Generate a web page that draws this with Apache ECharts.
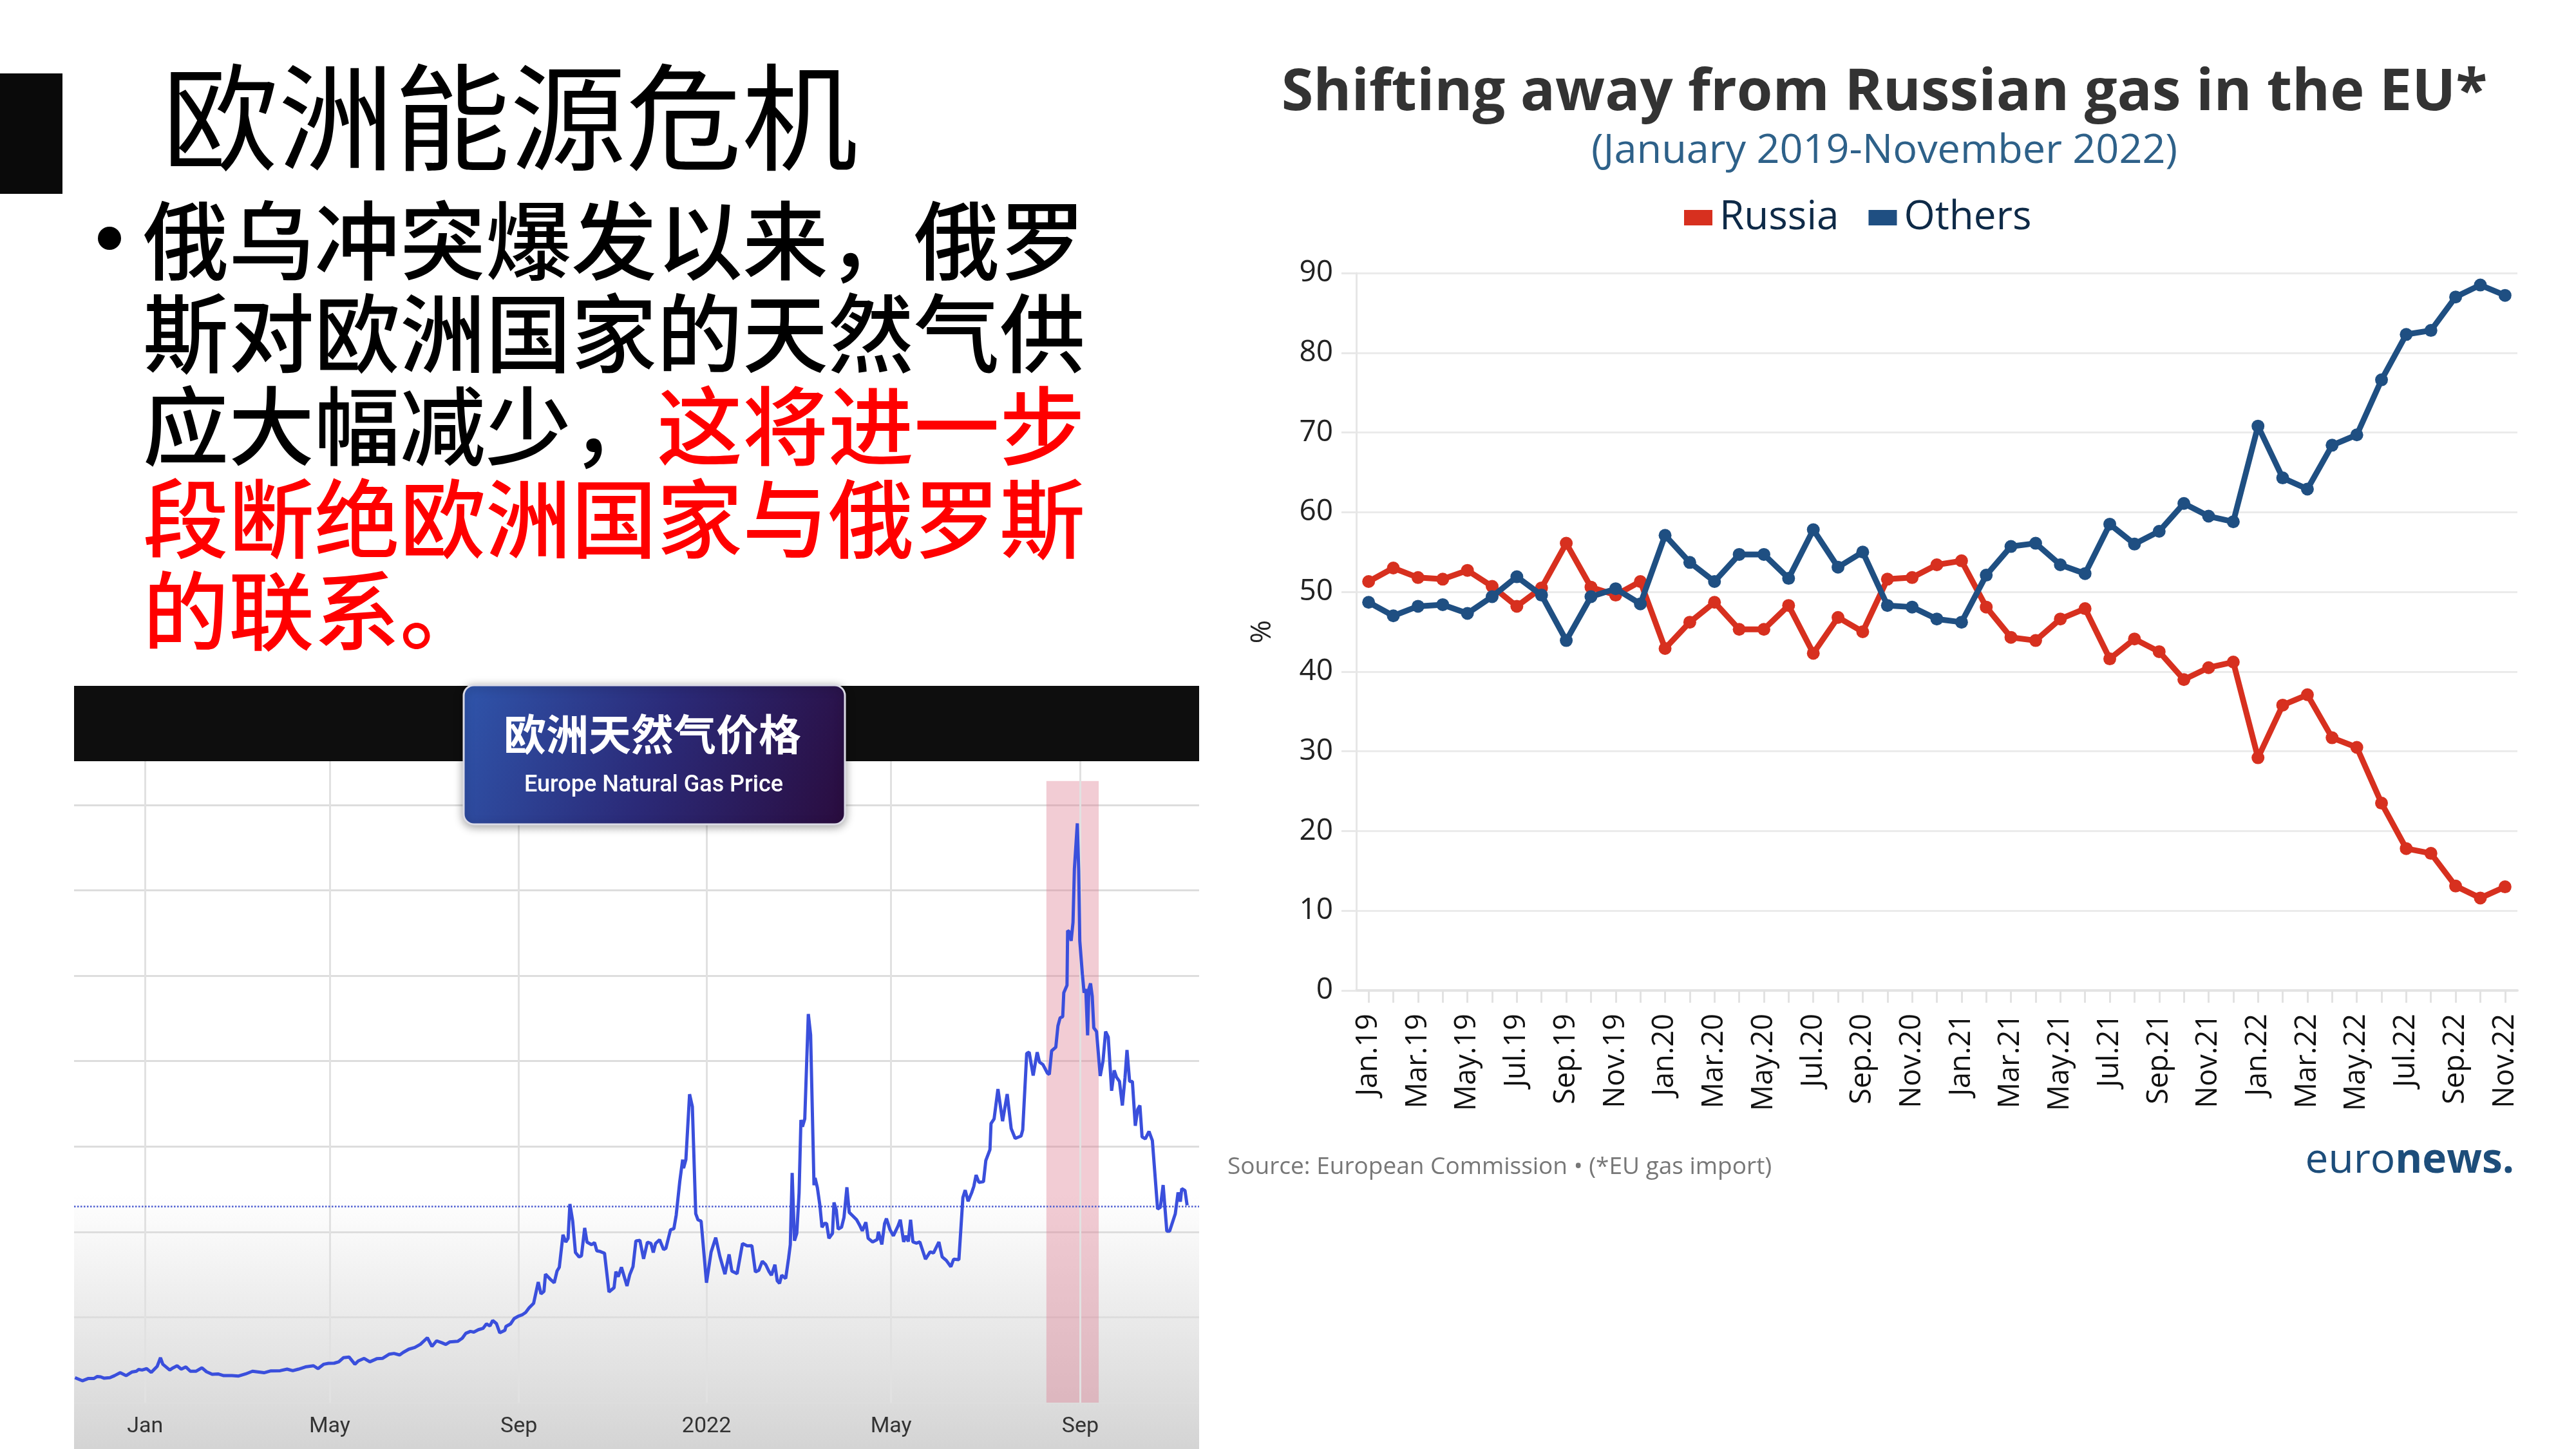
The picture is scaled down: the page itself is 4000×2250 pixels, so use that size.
<!DOCTYPE html>
<html><head><meta charset="utf-8">
<script src="https://cdn.jsdelivr.net/npm/echarts@6/dist/echarts.min.js"></script>
<style>html,body{margin:0;padding:0;background:#fff}#c{width:4000px;height:2250px}</style>
</head><body><div id="c"></div>
<script>
// ---------- Right chart: share of EU gas imports (%) ----------
const monthLabels = [
 'Jan.19','Feb.19','Mar.19','Apr.19','May.19','Jun.19','Jul.19','Aug.19','Sep.19','Oct.19','Nov.19','Dec.19',
 'Jan.20','Feb.20','Mar.20','Apr.20','May.20','Jun.20','Jul.20','Aug.20','Sep.20','Oct.20','Nov.20','Dec.20',
 'Jan.21','Feb.21','Mar.21','Apr.21','May.21','Jun.21','Jul.21','Aug.21','Sep.21','Oct.21','Nov.21','Dec.21',
 'Jan.22','Feb.22','Mar.22','Apr.22','May.22','Jun.22','Jul.22','Aug.22','Sep.22','Oct.22','Nov.22'];
const russiaShare = [
 51.3,53.0,51.8,51.6,52.7,50.7,48.2,50.5,56.1,50.6,49.6,51.3,
 42.9,46.2,48.7,45.3,45.3,48.3,42.3,46.8,45.0,51.6,51.8,53.4,
 53.9,48.1,44.3,43.9,46.6,47.9,41.6,44.1,42.5,39.0,40.5,41.2,
 29.2,35.8,37.1,31.7,30.5,23.5,17.8,17.2,13.1,11.6,13.0];
const othersShare = [
 48.7,47.0,48.2,48.4,47.3,49.4,51.9,49.6,43.9,49.4,50.4,48.5,
 57.1,53.7,51.3,54.7,54.7,51.7,57.8,53.1,55.0,48.3,48.1,46.6,
 46.2,52.1,55.7,56.1,53.4,52.3,58.5,56.0,57.6,61.1,59.5,58.8,
 70.8,64.3,62.9,68.4,69.7,76.6,82.3,82.8,87.0,88.5,87.2];
const shareTicks = {min:0, max:90, interval:10};

// ---------- Left chart: Europe natural gas price ----------
// [days since 2021-01-01, price]
const gasPoints = [
 [-45.6,14.6],[-40.8,12.8],[-37.1,14.1],[-33.4,14.1],[-31.1,15.3],[-28.9,15.1],[-26.6,14.3],[-22.9,14.6],
 [-19.9,15.8],[-16.2,17.5],[-12.4,15.8],[-8.7,17.9],[-5.7,18.4],[-4.2,19.4],[-2.0,19.1],[1.0,19.9],
 [4.0,17.7],[7.8,21.2],[10.0,26.3],[11.5,22.5],[16.0,19.1],[18.2,20.4],[20.8,21.6],[23.5,19.6],
 [26.5,20.9],[29.4,18.4],[33.2,18.4],[36.9,20.4],[39.9,18.1],[43.6,16.6],[47.4,16.8],[51.1,15.8],
 [56.4,15.8],[60.8,15.6],[65.3,16.8],[69.8,18.4],[77.3,17.5],[81.8,18.6],[87.8,18.7],[92.3,19.6],
 [96.0,18.7],[99.7,19.6],[104.2,20.9],[109.5,21.6],[112.4,19.9],[116.2,22.5],[119.2,23.0],[122.9,23.1],
 [125.9,23.9],[128.9,26.3],[132.6,26.7],[136.4,22.5],[138.6,24.4],[142.4,25.9],[146.1,23.9],[150.6,25.7],
 [154.3,25.9],[158.8,28.4],[161.8,28.8],[165.5,27.9],[167.8,29.4],[171.5,31.3],[175.3,32.3],[179.0,34.2],
 [183.5,38.0],[186.5,32.9],[189.5,36.2],[192.8,35.1],[195.5,34.1],[198.0,35.5],[203.2,35.9],[206.2,37.7],
 [208.5,40.6],[211.5,41.7],[213.7,41.3],[216.7,42.7],[219.7,43.5],[221.9,46.1],[224.2,44.9],[226.0,48.1],
 [228.4,46.3],[230.6,40.9],[233.9,42.3],[234.6,44.6],[237.6,46.1],[239.9,49.2],[242.9,50.7],[245.1,51.4],
 [247.4,52.8],[249.6,55.4],[252.6,58.2],[255.6,70.6],[257.4,63.7],[259.3,65.1],[260.3,75.2],[263.4,72.3],
 [266.0,70.2],[267.8,77.0],[269.3,79.3],[271.7,98.3],[273.5,94.0],[275.0,96.2],[276.2,116.3],[278.0,106.3],
 [279.8,87.9],[282.2,85.3],[283.7,86.0],[285.8,102.3],[287.3,94.0],[290.3,92.5],[292.2,93.7],[293.7,88.9],
 [295.9,88.5],[298.7,87.5],[301.6,64.8],[304.9,67.3],[306.1,76.7],[307.6,73.7],[309.7,79.3],[313.3,68.3],
 [315.1,74.9],[317.2,79.6],[319.1,94.7],[321.7,95.0],[324.1,84.2],[326.6,94.0],[328.9,93.2],[330.4,87.9],
 [331.9,93.2],[334.5,95.4],[337.1,89.6],[338.6,90.4],[341.6,101.2],[343.8,101.9],[345.3,109.8],[347.6,129.3],
 [349.5,142.3],[350.1,137.3],[351.6,142.3],[354.0,180.6],[355.8,173.4],[358.0,110.6],[359.5,107.0],[361.5,106.3],
 [365.0,70.2],[368.0,88.2],[371.0,96.6],[373.7,85.6],[377.0,75.2],[379.7,86.8],[381.5,77.0],[384.9,75.5],
 [388.4,93.2],[391.4,91.8],[394.5,91.9],[396.8,76.5],[399.0,77.5],[401.3,82.8],[403.5,80.8],[405.7,76.7],
 [407.2,74.6],[409.5,80.8],[411.0,71.3],[412.5,69.8],[413.9,74.6],[416.5,72.7],[418.4,84.7],[419.5,92.6],
 [420.7,134.5],[422.2,94.8],[423.7,99.1],[425.2,122.9],[426.4,165.5],[427.4,161.6],[428.9,166.2],[431.2,227.6],
 [432.7,215.3],[434.9,127.3],[435.6,131.6],[437.1,125.8],[438.7,115.7],[440.1,102.7],[441.6,104.9],[443.1,104.9],
 [444.6,96.2],[446.9,99.1],[447.9,117.2],[449.4,112.8],[450.6,101.6],[452.8,102.7],[454.4,108.5],[456.3,126.1],
 [457.8,111.4],[460.3,109.2],[462.6,107.1],[464.4,104.2],[466.3,100.6],[468.6,105.6],[470.1,96.2],[473.0,94.1],
 [476.0,95.5],[476.8,100.1],[479.0,92.6],[480.8,104.9],[482.0,107.8],[484.3,101.3],[486.5,97.7],[489.5,103.4],
 [491.0,107.1],[493.2,94.1],[494.7,97.7],[496.2,94.3],[497.7,107.1],[499.2,94.1],[501.5,93.4],[503.7,94.1],
 [507.4,84.0],[510.4,88.3],[512.6,87.6],[516.1,94.1],[518.2,85.4],[520.9,83.3],[523.9,79.6],[525.7,84.0],
 [529.1,83.7],[531.7,120.1],[533.2,124.4],[535.1,117.9],[537.4,122.9],[538.8,126.6],[540.3,133.3],[542.1,129.0],
 [545.1,129.4],[546.6,141.7],[549.3,148.2],[550.0,163.4],[552.0,166.2],[554.5,183.6],[557.5,164.8],[560.5,180.7],
 [563.1,160.5],[565.7,154.7],[569.5,156.1],[570.6,159.7],[573.2,204.5],[574.8,205.2],[577.4,191.5],[580.0,205.2],
 [581.5,199.4],[583.7,198.0],[586.7,192.9],[587.9,192.2],[589.4,206.0],[592.1,208.1],[593.5,220.6],[594.9,225.3],
 [596.6,226.0],[597.3,240.0],[599.4,244.4],[599.8,276.4],[600.8,275.8],[602.1,270.4],[603.3,281.2],[604.2,312.6],
 [606.1,339.2],[607.0,311.5],[607.7,270.4],[609.4,250.8],[610.5,240.0],[611.6,242.2],[612.8,215.1],[613.6,242.2],
 [614.7,245.5],[615.8,237.9],[616.8,219.5],[618.6,217.3],[621.0,191.3],[622.8,200.0],[624.5,217.3],[626.2,214.1],
 [628.4,182.6],[630.1,194.6],[631.5,190.7],[633.5,188.1],[635.4,174.0],[637.1,190.2],[638.4,206.5],[640.1,188.1],
 [641.9,188.1],[643.8,162.1],[645.4,171.8],[646.8,174.0],[648.2,155.6],[650.3,154.5],[652.7,158.8],[654.9,153.4],
 [658.3,113.4],[660.1,114.4],[661.9,127.4],[664.3,100.4],[666.1,100.4],[669.8,110.6],[671.6,123.1],[673.1,117.7],
 [674.0,125.3],[676.1,124.2],[677.5,115.5]];
const gasTickDays = [0,120,243,365,485,608];
const gasTickLabels = ['Jan','May','Sep','2022','May','Sep'];
const gasLastPrice = 115;
const gasHighlight = [586, 620, 364];
const gasAxis = {dayMin:-46.2, dayMax:685.3, priceMax:375.6, priceStep:50};

const bodyLines = ['俄乌冲突爆发以来，俄罗', '斯对欧洲国家的天然气供', '应大幅减少，', '这将进一步', '段断绝欧洲国家与俄罗斯', '的联系。'];

const CJK = '"Noto Sans CJK SC", sans-serif';
const OS = '"Open Sans", sans-serif';
function txt(x, y, text, size, color, weight, align, family, z) {
  return {type:'text', x:x, y:y, z:z||10, silent:true,
    style:{text:text, fontSize:size, fontFamily:family||CJK, fontWeight:weight||'normal', fill:color,
      align:align||'left', textAlign:align||'left', verticalAlign:'middle', textVerticalAlign:'middle'}};
}

const chart = echarts.init(document.getElementById('c'), null, {renderer:'canvas', width:4000, height:2250});
const option = {
  backgroundColor:'#ffffff',
  animation:false,
  title:{
    text:'Shifting away from Russian gas in the EU*',
    subtext:'(January 2019-November 2022)',
    left:2921, top:95, textAlign:'center', itemGap:14,
    textStyle:{fontFamily:OS, fontSize:90, fontWeight:'bold', color:'#333333'},
    subtextStyle:{fontFamily:OS, fontSize:63, color:'#2e6189'}
  },
  legend:{
    data:['Russia','Others'], left:2610, top:302, icon:'rect', itemWidth:44, itemHeight:24, itemGap:46,
    textStyle:{fontFamily:OS, fontSize:62, color:'#0e2a47', padding:[0,0,0,6]}
  },
  grid:[
    {left:2106, top:424, width:1803, height:1114},
    {left:115, top:1182, width:1747, height:996}
  ],
  xAxis:[
    {type:'category', gridIndex:0, data:monthLabels, boundaryGap:true,
     axisLine:{lineStyle:{color:'#e4e4e4', width:4}},
     axisTick:{show:true, interval:0, alignWithLabel:true, length:19, lineStyle:{color:'#e2e2e2', width:3}},
     axisLabel:{interval:1, rotate:90, margin:36, fontFamily:OS, fontSize:45, color:'#111111'},
     splitLine:{show:false}},
    {type:'value', gridIndex:1, min:gasAxis.dayMin, max:gasAxis.dayMax, show:false, splitLine:{show:false}}
  ],
  yAxis:[
    {type:'value', gridIndex:0, min:shareTicks.min, max:shareTicks.max, interval:shareTicks.interval,
     name:'%', nameLocation:'middle', nameGap:124, nameRotate:90,
     nameTextStyle:{fontFamily:OS, fontSize:44, color:'#222222'},
     axisLine:{show:true, lineStyle:{color:'#e6e6e6', width:3}},
     axisTick:{show:true, length:23, lineStyle:{color:'#e8e8e8', width:3}},
     axisLabel:{margin:36, fontFamily:OS, fontSize:46, color:'#222222'},
     splitLine:{show:true, lineStyle:{color:'#ebebeb', width:3}}},
    {type:'value', gridIndex:1, min:0, max:gasAxis.priceMax, interval:gasAxis.priceStep,
     axisLine:{show:false}, axisTick:{show:false}, axisLabel:{show:false},
     splitLine:{show:true, showMaxLine:false, lineStyle:{color:'#dddddd', width:3}}}
  ],
  series:[
    {name:'Russia', type:'line', xAxisIndex:0, yAxisIndex:0, data:russiaShare,
     symbol:'circle', symbolSize:20, color:'#d7301f',
     lineStyle:{width:9, color:'#d7301f'}, itemStyle:{color:'#d7301f'}, z:3},
    {name:'Others', type:'line', xAxisIndex:0, yAxisIndex:0, data:othersShare,
     symbol:'circle', symbolSize:20, color:'#1f4f82',
     lineStyle:{width:9, color:'#1f4f82'}, itemStyle:{color:'#1f4f82'}, z:4},
    {name:'gasMarks', type:'line', xAxisIndex:1, yAxisIndex:1, data:[], z:1, silent:true,
     markArea:{silent:true, itemStyle:{color:'rgba(222,128,148,0.40)'},
       data:[[{xAxis:gasHighlight[0], yAxis:0},{xAxis:gasHighlight[1], yAxis:gasHighlight[2]}]]},
     markLine:{silent:true, symbol:['none','none'], animation:false,
       data: gasTickDays.map((d,i)=>({xAxis:d,
          label:{show:true, position:'start', formatter:gasTickLabels[i], color:'#333333', fontSize:34, fontFamily:'Roboto', distance:20},
          lineStyle:{color:'#e1e1e1', width:3, type:'solid'}}))
         .concat([{yAxis:gasLastPrice, label:{show:false}, lineStyle:{color:'#4a5bd0', width:2.5, type:'dotted'}}])}},
    {name:'gasPrice', type:'line', xAxisIndex:1, yAxisIndex:1, data:gasPoints,
     showSymbol:false, symbol:'none', lineStyle:{width:5, color:'#3a4fdc'}, z:5}
  ],
  graphic:[
    {type:'rect', z:-100, silent:true, shape:{x:115, y:1182, width:1747, height:1068},
     style:{fill:{type:'linear', x:0, y:0, x2:0, y2:1, colorStops:[
       {offset:0, color:'#ffffff'}, {offset:0.63, color:'#ffffff'}, {offset:1, color:'#d4d4d4'}]}}},
    {type:'rect', z:50, silent:true, shape:{x:115, y:1065, width:1747, height:117}, style:{fill:'#0e0e0e'}},
    {type:'rect', z:60, silent:true, shape:{x:720, y:1064, width:592, height:216, r:16},
     style:{fill:{type:'linear', x:0, y:0, x2:1, y2:1, colorStops:[
       {offset:0, color:'#2f55ab'}, {offset:0.5, color:'#2b2a78'}, {offset:1, color:'#2a0c3e'}]},
       stroke:'#dcdce6', lineWidth:3, shadowBlur:14, shadowColor:'rgba(0,0,0,0.35)', shadowOffsetY:3}},
    txt(1013, 1140, '欧洲天然气价格', 66, '#ffffff', 'bold', 'center', CJK, 61),
    txt(1015, 1220, 'Europe Natural Gas Price', 36, '#ffffff', '500', 'center', 'Roboto, sans-serif', 61),
    {type:'rect', z:10, silent:true, shape:{x:0, y:114, width:97, height:187}, style:{fill:'#0a0a0a'}},
    txt(252, 182, '欧洲能源危机', 180, '#000000', 'normal', 'left', CJK),
    {type:'circle', z:10, silent:true, shape:{cx:170, cy:370, r:18}, style:{fill:'#000000'}},
    txt(222, 373, bodyLines[0], 133, '#000000', '500'),
    txt(222, 517, bodyLines[1], 133, '#000000', '500'),
    txt(222, 661, bodyLines[2], 133, '#000000', '500'),
    txt(1020, 661, bodyLines[3], 133, '#ff0000', '500'),
    txt(222, 805, bodyLines[4], 133, '#ff0000', '500'),
    txt(222, 948, bodyLines[5], 133, '#ff0000', '500'),
    txt(1906, 1812, 'Source: European Commission \u2022 (*EU gas import)', 37, '#777777', 'normal', 'left', OS),
    {type:'text', x:3904, y:1803, z:10, silent:true,
     style:{text:'{a|euro}{b|news.}', align:'right', textAlign:'right', verticalAlign:'middle', textVerticalAlign:'middle',
       rich:{a:{fontSize:64, fontFamily:OS, fontWeight:'normal', fill:'#1d4d7a', color:'#1d4d7a'},
             b:{fontSize:64, fontFamily:OS, fontWeight:'bold', fill:'#1d4d7a', color:'#1d4d7a'}}}}
  ]
};
chart.setOption(option);
</script></body></html>
